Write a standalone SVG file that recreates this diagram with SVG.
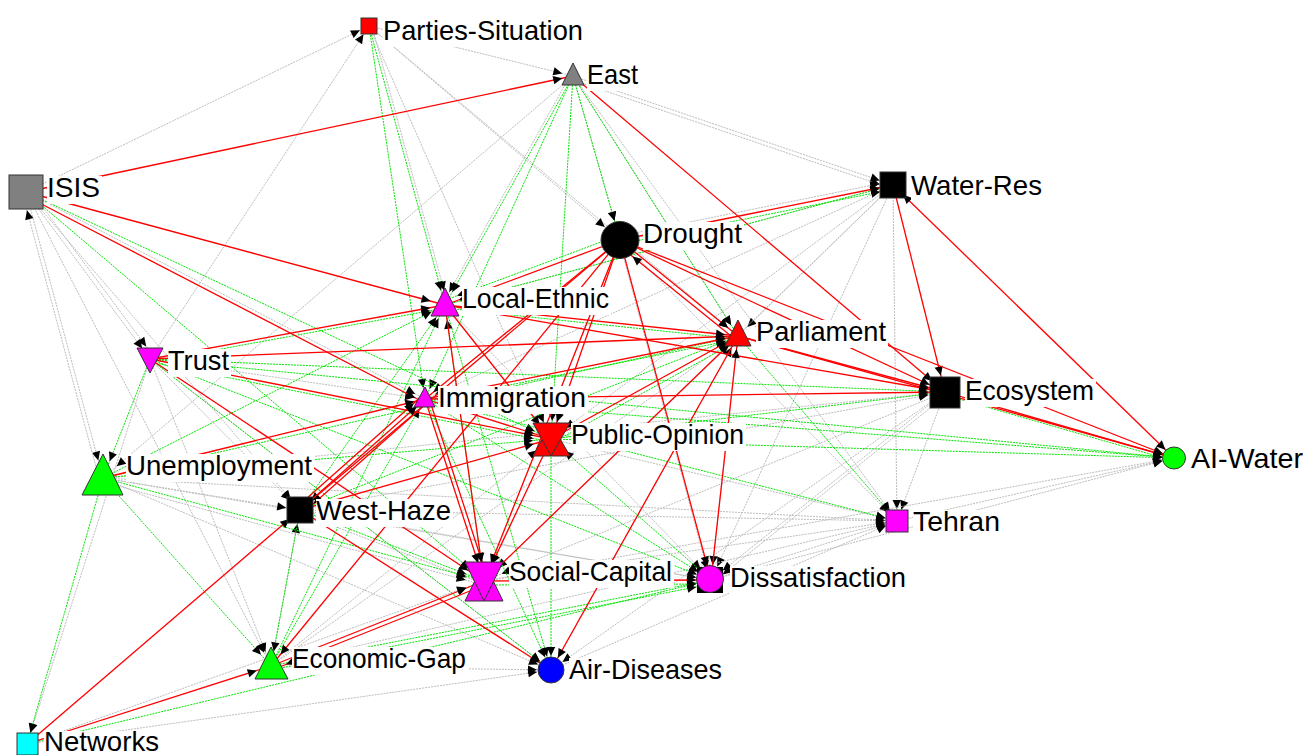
<svg xmlns="http://www.w3.org/2000/svg" width="1306" height="755" viewBox="0 0 1306 755">
<style>
.r{stroke:#ff0000;stroke-width:1.3;fill:none}
.g{stroke:#00e600;stroke-width:1;stroke-dasharray:2 1;fill:none}
.y{stroke:#bdbdbd;stroke-width:1;stroke-dasharray:2 1;fill:none}
.lb{fill:#ffffff}
.t{font-family:"Liberation Sans",Arial,sans-serif;font-size:28px;fill:#000}
.o{stroke:#333;stroke-width:1}
</style>
<defs>
<path id="ah" d="M0,0 L-9,-4.2 L-9,4.2 Z" fill="#000"/>
<marker id="mPS" markerUnits="userSpaceOnUse" orient="auto" overflow="visible" refX="10" refY="0" markerWidth="1" markerHeight="1"><use href="#ah"/></marker>
<marker id="mEA" markerUnits="userSpaceOnUse" orient="auto" overflow="visible" refX="11" refY="0" markerWidth="1" markerHeight="1"><use href="#ah"/></marker>
<marker id="mIS" markerUnits="userSpaceOnUse" orient="auto" overflow="visible" refX="19" refY="0" markerWidth="1" markerHeight="1"><use href="#ah"/></marker>
<marker id="mWR" markerUnits="userSpaceOnUse" orient="auto" overflow="visible" refX="14" refY="0" markerWidth="1" markerHeight="1"><use href="#ah"/></marker>
<marker id="mWRs" markerUnits="userSpaceOnUse" orient="auto-start-reverse" overflow="visible" refX="14" refY="0" markerWidth="1" markerHeight="1"><use href="#ah"/></marker>
<marker id="mDR" markerUnits="userSpaceOnUse" orient="auto" overflow="visible" refX="20" refY="0" markerWidth="1" markerHeight="1"><use href="#ah"/></marker>
<marker id="mLE" markerUnits="userSpaceOnUse" orient="auto" overflow="visible" refX="15" refY="0" markerWidth="1" markerHeight="1"><use href="#ah"/></marker>
<marker id="mPA" markerUnits="userSpaceOnUse" orient="auto" overflow="visible" refX="13" refY="0" markerWidth="1" markerHeight="1"><use href="#ah"/></marker>
<marker id="mTR" markerUnits="userSpaceOnUse" orient="auto" overflow="visible" refX="13" refY="0" markerWidth="1" markerHeight="1"><use href="#ah"/></marker>
<marker id="mIM" markerUnits="userSpaceOnUse" orient="auto" overflow="visible" refX="11" refY="0" markerWidth="1" markerHeight="1"><use href="#ah"/></marker>
<marker id="mEC" markerUnits="userSpaceOnUse" orient="auto" overflow="visible" refX="17" refY="0" markerWidth="1" markerHeight="1"><use href="#ah"/></marker>
<marker id="mPO" markerUnits="userSpaceOnUse" orient="auto" overflow="visible" refX="18" refY="0" markerWidth="1" markerHeight="1"><use href="#ah"/></marker>
<marker id="mAW" markerUnits="userSpaceOnUse" orient="auto" overflow="visible" refX="12" refY="0" markerWidth="1" markerHeight="1"><use href="#ah"/></marker>
<marker id="mUN" markerUnits="userSpaceOnUse" orient="auto" overflow="visible" refX="18" refY="0" markerWidth="1" markerHeight="1"><use href="#ah"/></marker>
<marker id="mWH" markerUnits="userSpaceOnUse" orient="auto" overflow="visible" refX="14" refY="0" markerWidth="1" markerHeight="1"><use href="#ah"/></marker>
<marker id="mTE" markerUnits="userSpaceOnUse" orient="auto" overflow="visible" refX="12" refY="0" markerWidth="1" markerHeight="1"><use href="#ah"/></marker>
<marker id="mSC" markerUnits="userSpaceOnUse" orient="auto" overflow="visible" refX="19" refY="0" markerWidth="1" markerHeight="1"><use href="#ah"/></marker>
<marker id="mDI" markerUnits="userSpaceOnUse" orient="auto" overflow="visible" refX="15" refY="0" markerWidth="1" markerHeight="1"><use href="#ah"/></marker>
<marker id="mEG" markerUnits="userSpaceOnUse" orient="auto" overflow="visible" refX="15" refY="0" markerWidth="1" markerHeight="1"><use href="#ah"/></marker>
<marker id="mAD" markerUnits="userSpaceOnUse" orient="auto" overflow="visible" refX="14" refY="0" markerWidth="1" markerHeight="1"><use href="#ah"/></marker>
<marker id="mNE" markerUnits="userSpaceOnUse" orient="auto" overflow="visible" refX="12" refY="0" markerWidth="1" markerHeight="1"><use href="#ah"/></marker>
</defs>
<rect width="1306" height="755" fill="#ffffff"/>
<g id="connectors">
<!-- gray -->
<line class="y" x1="26" y1="192" x2="369" y2="26" marker-end="url(#mPS)"/>
<line class="y" x1="150" y1="359" x2="369" y2="26" marker-end="url(#mPS)"/>
<line class="y" x1="369" y1="26" x2="573" y2="76" marker-end="url(#mEA)"/>
<line class="y" x1="369" y1="26" x2="738" y2="336" marker-end="url(#mPA)"/>
<line class="y" x1="369" y1="26" x2="620" y2="240" marker-end="url(#mDR)"/>
<line class="y" x1="372" y1="26" x2="448" y2="305" marker-end="url(#mLE)"/>
<line class="y" x1="369" y1="26" x2="551" y2="439" marker-end="url(#mPO)"/>
<line class="y" x1="573" y1="76" x2="893" y2="185" marker-end="url(#mWR)"/>
<line class="y" x1="573" y1="80" x2="893" y2="189" marker-end="url(#mWR)"/>
<line class="y" x1="573" y1="76" x2="620" y2="240" marker-end="url(#mDR)"/>
<line class="y" x1="573" y1="76" x2="738" y2="336" marker-end="url(#mPA)"/>
<line class="y" x1="573" y1="76" x2="897" y2="521" marker-end="url(#mTE)"/>
<line class="y" x1="573" y1="76" x2="103" y2="478" marker-end="url(#mUN)"/>
<line class="y" x1="570" y1="76" x2="442" y2="305" marker-end="url(#mLE)"/>
<line class="y" x1="26" y1="192" x2="150" y2="359" marker-end="url(#mTR)"/>
<line class="y" x1="30" y1="190" x2="154" y2="357" marker-end="url(#mTR)"/>
<line class="y" x1="26" y1="192" x2="103" y2="478" marker-end="url(#mUN)"/>
<line class="y" x1="99" y1="478" x2="22" y2="192" marker-end="url(#mIS)"/>
<line class="y" x1="26" y1="192" x2="300" y2="510" marker-end="url(#mWH)"/>
<line class="y" x1="26" y1="192" x2="271" y2="666" marker-end="url(#mEG)"/>
<line class="y" x1="26" y1="192" x2="425" y2="399" marker-end="url(#mIM)"/>
<line class="y" x1="620" y1="236" x2="893" y2="181" marker-end="url(#mWR)"/>
<line class="y" x1="893" y1="185" x2="738" y2="336" marker-end="url(#mPA)"/>
<line class="y" x1="893" y1="185" x2="897" y2="521" marker-end="url(#mTE)"/>
<line class="y" x1="893" y1="185" x2="425" y2="399" marker-end="url(#mIM)"/>
<line class="y" x1="893" y1="185" x2="484" y2="581" marker-end="url(#mSC)"/>
<line class="y" x1="893" y1="185" x2="711" y2="580" marker-end="url(#mDI)"/>
<line class="y" x1="893" y1="185" x2="551" y2="439" marker-end="url(#mPO)"/>
<line class="y" x1="893" y1="185" x2="445" y2="305" marker-end="url(#mLE)"/>
<line class="y" x1="945" y1="392" x2="897" y2="521" marker-end="url(#mTE)"/>
<line class="y" x1="945" y1="392" x2="711" y2="580" marker-end="url(#mDI)"/>
<line class="y" x1="945" y1="396" x2="711" y2="584" marker-end="url(#mDI)"/>
<line class="y" x1="945" y1="392" x2="484" y2="581" marker-end="url(#mSC)"/>
<line class="y" x1="945" y1="392" x2="551" y2="670" marker-end="url(#mAD)"/>
<line class="y" x1="103" y1="478" x2="897" y2="521" marker-end="url(#mTE)"/>
<line class="y" x1="300" y1="510" x2="897" y2="521" marker-end="url(#mTE)"/>
<line class="y" x1="271" y1="666" x2="897" y2="521" marker-end="url(#mTE)"/>
<line class="y" x1="484" y1="581" x2="897" y2="521" marker-end="url(#mTE)"/>
<line class="y" x1="551" y1="670" x2="897" y2="521" marker-end="url(#mTE)"/>
<line class="y" x1="711" y1="580" x2="897" y2="521" marker-end="url(#mTE)"/>
<line class="y" x1="551" y1="439" x2="897" y2="521" marker-end="url(#mTE)"/>
<line class="y" x1="620" y1="240" x2="897" y2="521" marker-end="url(#mTE)"/>
<line class="y" x1="711" y1="580" x2="1174" y2="458" marker-end="url(#mAW)"/>
<line class="y" x1="897" y1="521" x2="1174" y2="458" marker-end="url(#mAW)"/>
<line class="y" x1="484" y1="581" x2="1174" y2="458" marker-end="url(#mAW)"/>
<line class="y" x1="103" y1="478" x2="551" y2="670" marker-end="url(#mAD)"/>
<line class="y" x1="300" y1="510" x2="711" y2="580" marker-end="url(#mDI)"/>
<line class="y" x1="103" y1="478" x2="711" y2="580" marker-end="url(#mDI)"/>
<line class="y" x1="103" y1="482" x2="484" y2="585" marker-end="url(#mSC)"/>
<line class="y" x1="271" y1="666" x2="551" y2="670" marker-end="url(#mAD)"/>
<line class="y" x1="150" y1="359" x2="271" y2="666" marker-end="url(#mEG)"/>
<line class="y" x1="150" y1="359" x2="300" y2="510" marker-end="url(#mWH)"/>
<line class="y" x1="150" y1="359" x2="551" y2="670" marker-end="url(#mAD)"/>
<line class="y" x1="150" y1="359" x2="425" y2="399" marker-end="url(#mIM)"/>
<line class="y" x1="27" y1="744" x2="484" y2="581" marker-end="url(#mSC)"/>
<line class="y" x1="27" y1="744" x2="551" y2="670" marker-end="url(#mAD)"/>
<line class="y" x1="300" y1="513" x2="484" y2="584" marker-end="url(#mSC)"/>
<line class="y" x1="445" y1="305" x2="711" y2="580" marker-end="url(#mDI)"/>
<line class="y" x1="738" y1="336" x2="711" y2="580" marker-end="url(#mDI)"/>
<line class="y" x1="738" y1="336" x2="484" y2="581" marker-end="url(#mSC)"/>
<line class="y" x1="103" y1="478" x2="300" y2="510" marker-end="url(#mWH)"/>
<line class="y" x1="103" y1="478" x2="945" y2="392" marker-end="url(#mEC)"/>
<line class="y" x1="300" y1="510" x2="945" y2="392" marker-end="url(#mEC)"/>
<line class="y" x1="271" y1="666" x2="551" y2="439" marker-end="url(#mPO)"/>
<line class="y" x1="271" y1="666" x2="738" y2="336" marker-end="url(#mPA)"/>
<line class="y" x1="551" y1="670" x2="738" y2="336" marker-end="url(#mPA)"/>
<line class="y" x1="620" y1="244" x2="711" y2="584" marker-end="url(#mDI)"/>
<line class="y" x1="620" y1="240" x2="484" y2="581" marker-end="url(#mSC)"/>
<line class="y" x1="271" y1="666" x2="300" y2="510" marker-end="url(#mWH)"/>
<line class="y" x1="150" y1="359" x2="27" y2="744" marker-end="url(#mNE)"/>
<!-- green -->
<line class="g" x1="369" y1="26" x2="445" y2="305" marker-end="url(#mLE)"/>
<line class="g" x1="369" y1="26" x2="425" y2="399" marker-end="url(#mIM)"/>
<line class="g" x1="573" y1="76" x2="445" y2="305" marker-end="url(#mLE)"/>
<line class="g" x1="573" y1="76" x2="425" y2="399" marker-end="url(#mIM)"/>
<line class="g" x1="573" y1="76" x2="551" y2="439" marker-end="url(#mPO)"/>
<line class="g" x1="573" y1="76" x2="738" y2="336" marker-end="url(#mPA)"/>
<line class="g" x1="573" y1="76" x2="620" y2="240" marker-end="url(#mDR)"/>
<line class="g" x1="621" y1="244" x2="894" y2="189" marker-end="url(#mWR)"/>
<line class="g" x1="445" y1="305" x2="893" y2="185" marker-end="url(#mWR)"/>
<line class="g" x1="617" y1="236" x2="443" y2="301" marker-end="url(#mLE)"/>
<line class="g" x1="26" y1="192" x2="484" y2="581" marker-end="url(#mSC)"/>
<line class="g" x1="26" y1="192" x2="551" y2="439" marker-end="url(#mPO)"/>
<line class="g" x1="150" y1="362" x2="445" y2="308" marker-end="url(#mLE)"/>
<line class="g" x1="150" y1="362" x2="551" y2="442" marker-end="url(#mPO)"/>
<line class="g" x1="150" y1="359" x2="711" y2="580" marker-end="url(#mDI)"/>
<line class="g" x1="150" y1="359" x2="1174" y2="458" marker-end="url(#mAW)"/>
<line class="g" x1="150" y1="359" x2="945" y2="392" marker-end="url(#mEC)"/>
<line class="g" x1="425" y1="399" x2="897" y2="521" marker-end="url(#mTE)"/>
<line class="g" x1="425" y1="399" x2="1174" y2="458" marker-end="url(#mAW)"/>
<line class="g" x1="551" y1="439" x2="1174" y2="458" marker-end="url(#mAW)"/>
<line class="g" x1="551" y1="439" x2="945" y2="392" marker-end="url(#mEC)"/>
<line class="g" x1="945" y1="395" x2="1174" y2="461" marker-end="url(#mAW)"/>
<line class="g" x1="738" y1="336" x2="897" y2="521" marker-end="url(#mTE)"/>
<line class="g" x1="103" y1="478" x2="738" y2="336" marker-end="url(#mPA)"/>
<line class="g" x1="300" y1="510" x2="738" y2="336" marker-end="url(#mPA)"/>
<line class="g" x1="425" y1="402" x2="738" y2="339" marker-end="url(#mPA)"/>
<line class="g" x1="103" y1="478" x2="271" y2="666" marker-end="url(#mEG)"/>
<line class="g" x1="300" y1="510" x2="271" y2="666" marker-end="url(#mEG)"/>
<line class="g" x1="271" y1="666" x2="425" y2="399" marker-end="url(#mIM)"/>
<line class="g" x1="271" y1="666" x2="445" y2="305" marker-end="url(#mLE)"/>
<line class="g" x1="103" y1="478" x2="27" y2="744" marker-end="url(#mNE)"/>
<line class="g" x1="27" y1="744" x2="711" y2="580" marker-end="url(#mDI)"/>
<line class="g" x1="271" y1="666" x2="711" y2="580" marker-end="url(#mDI)"/>
<line class="g" x1="271" y1="670" x2="711" y2="584" marker-end="url(#mDI)"/>
<line class="g" x1="484" y1="585" x2="711" y2="584" marker-end="url(#mDI)"/>
<line class="g" x1="445" y1="305" x2="551" y2="670" marker-end="url(#mAD)"/>
<line class="g" x1="425" y1="399" x2="551" y2="670" marker-end="url(#mAD)"/>
<line class="g" x1="551" y1="439" x2="551" y2="670" marker-end="url(#mAD)"/>
<line class="g" x1="103" y1="478" x2="445" y2="305" marker-end="url(#mLE)"/>
<line class="g" x1="103" y1="478" x2="551" y2="439" marker-end="url(#mPO)"/>
<line class="g" x1="300" y1="510" x2="445" y2="305" marker-end="url(#mLE)"/>
<line class="g" x1="484" y1="581" x2="445" y2="305" marker-end="url(#mLE)"/>
<line class="g" x1="445" y1="308" x2="738" y2="339" marker-end="url(#mPA)"/>
<line class="g" x1="554" y1="442" x2="741" y2="339" marker-end="url(#mPA)"/>
<line class="g" x1="150" y1="359" x2="103" y2="478" marker-end="url(#mUN)"/>
<line class="g" x1="103" y1="478" x2="484" y2="581" marker-end="url(#mSC)"/>
<line class="g" x1="711" y1="580" x2="551" y2="439" marker-end="url(#mPO)"/>
<line class="g" x1="425" y1="399" x2="711" y2="580" marker-end="url(#mDI)"/>
<line class="g" x1="300" y1="510" x2="484" y2="581" marker-end="url(#mSC)"/>
<line class="g" x1="150" y1="359" x2="551" y2="670" marker-end="url(#mAD)"/>
<!-- red -->
<line class="r" x1="26" y1="192" x2="573" y2="76" marker-end="url(#mEA)"/>
<line class="r" x1="26" y1="192" x2="445" y2="305" marker-end="url(#mLE)"/>
<line class="r" x1="26" y1="196" x2="425" y2="403" marker-end="url(#mIM)"/>
<line class="r" x1="573" y1="76" x2="945" y2="392" marker-end="url(#mEC)"/>
<line class="r" x1="620" y1="240" x2="893" y2="185" marker-end="url(#mWR)"/>
<line class="r" x1="893" y1="185" x2="945" y2="392" marker-end="url(#mEC)"/>
<line class="r" x1="893" y1="185" x2="1174" y2="458" marker-start="url(#mWRs)" marker-end="url(#mAW)"/>
<line class="r" x1="945" y1="392" x2="1174" y2="458" marker-end="url(#mAW)"/>
<line class="r" x1="738" y1="336" x2="1174" y2="458" marker-end="url(#mAW)"/>
<line class="r" x1="620" y1="240" x2="1174" y2="458" marker-end="url(#mAW)"/>
<line class="r" x1="620" y1="240" x2="738" y2="336" marker-end="url(#mPA)"/>
<line class="r" x1="736" y1="340" x2="617" y2="244" marker-end="url(#mDR)"/>
<line class="r" x1="620" y1="240" x2="945" y2="392" marker-end="url(#mEC)"/>
<line class="r" x1="620" y1="240" x2="445" y2="305" marker-end="url(#mLE)"/>
<line class="r" x1="620" y1="240" x2="425" y2="399" marker-end="url(#mIM)"/>
<line class="r" x1="620" y1="240" x2="551" y2="439" marker-end="url(#mPO)"/>
<line class="r" x1="620" y1="240" x2="484" y2="581" marker-end="url(#mSC)"/>
<line class="r" x1="620" y1="240" x2="711" y2="580" marker-end="url(#mDI)"/>
<line class="r" x1="620" y1="240" x2="271" y2="666" marker-end="url(#mEG)"/>
<line class="r" x1="620" y1="240" x2="300" y2="510" marker-end="url(#mWH)"/>
<line class="r" x1="150" y1="359" x2="738" y2="336" marker-end="url(#mPA)"/>
<line class="r" x1="150" y1="359" x2="551" y2="439" marker-end="url(#mPO)"/>
<line class="r" x1="150" y1="359" x2="484" y2="581" marker-end="url(#mSC)"/>
<line class="r" x1="150" y1="359" x2="445" y2="305" marker-end="url(#mLE)"/>
<line class="r" x1="445" y1="305" x2="738" y2="336" marker-end="url(#mPA)"/>
<line class="r" x1="445" y1="305" x2="945" y2="392" marker-end="url(#mEC)"/>
<line class="r" x1="425" y1="399" x2="945" y2="392" marker-end="url(#mEC)"/>
<line class="r" x1="738" y1="336" x2="945" y2="392" marker-end="url(#mEC)"/>
<line class="r" x1="103" y1="478" x2="425" y2="399" marker-end="url(#mIM)"/>
<line class="r" x1="300" y1="510" x2="425" y2="399" marker-end="url(#mIM)"/>
<line class="r" x1="428" y1="402" x2="303" y2="513" marker-end="url(#mWH)"/>
<line class="r" x1="297" y1="507" x2="422" y2="396" marker-end="url(#mIM)"/>
<line class="r" x1="300" y1="510" x2="551" y2="439" marker-end="url(#mPO)"/>
<line class="r" x1="300" y1="510" x2="551" y2="670" marker-end="url(#mAD)"/>
<line class="r" x1="27" y1="744" x2="271" y2="666" marker-end="url(#mEG)"/>
<line class="r" x1="27" y1="744" x2="300" y2="510" marker-end="url(#mWH)"/>
<line class="r" x1="271" y1="666" x2="484" y2="581" marker-end="url(#mSC)"/>
<line class="r" x1="485" y1="585" x2="272" y2="670" marker-end="url(#mEG)"/>
<line class="r" x1="425" y1="399" x2="484" y2="581" marker-end="url(#mSC)"/>
<line class="r" x1="429" y1="398" x2="488" y2="580" marker-end="url(#mSC)"/>
<line class="r" x1="551" y1="439" x2="484" y2="581" marker-end="url(#mSC)"/>
<line class="r" x1="445" y1="305" x2="484" y2="581" marker-end="url(#mSC)"/>
<line class="r" x1="738" y1="336" x2="551" y2="670" marker-end="url(#mAD)"/>
<line class="r" x1="484" y1="581" x2="738" y2="336" marker-end="url(#mPA)"/>
<line class="r" x1="551" y1="439" x2="738" y2="336" marker-end="url(#mPA)"/>
<line class="r" x1="425" y1="399" x2="738" y2="336" marker-end="url(#mPA)"/>
<line class="r" x1="484" y1="581" x2="711" y2="580" marker-end="url(#mDI)"/>
<line class="r" x1="425" y1="399" x2="551" y2="439" marker-end="url(#mPO)"/>
<line class="r" x1="445" y1="305" x2="551" y2="439" marker-end="url(#mPO)"/>
<line class="r" x1="711" y1="580" x2="738" y2="336" marker-end="url(#mPA)"/>
</g>
<g id="node-parties-situation">
<rect class="o" x="361" y="18" width="16" height="16" fill="#ff0000"/>
<rect class="lb" x="383" y="19" width="202" height="28"/>
<text class="t" x="383" y="40" textLength="200" lengthAdjust="spacingAndGlyphs">Parties-Situation</text>
</g>
<g id="node-east">
<polygon class="o" points="573,63 584,85 562,85" fill="#808080"/>
<rect class="lb" x="587" y="63" width="53" height="28"/>
<text class="t" x="587" y="84" textLength="51" lengthAdjust="spacingAndGlyphs">East</text>
</g>
<g id="node-isis">
<rect class="o" x="9" y="175" width="34" height="34" fill="#808080"/>
<rect class="lb" x="47" y="176" width="55" height="28"/>
<text class="t" x="47" y="197" textLength="53" lengthAdjust="spacingAndGlyphs">ISIS</text>
</g>
<g id="node-water-res">
<rect class="o" x="880" y="172" width="26" height="26" fill="#000"/>
<rect class="lb" x="911" y="174" width="133" height="28"/>
<text class="t" x="911" y="195" textLength="131" lengthAdjust="spacingAndGlyphs">Water-Res</text>
</g>
<g id="node-drought">
<ellipse class="o" cx="620" cy="240" rx="19" ry="18.5" fill="#000"/>
<rect class="lb" x="643" y="222" width="101" height="28"/>
<text class="t" x="643" y="243" textLength="99" lengthAdjust="spacingAndGlyphs">Drought</text>
</g>
<g id="node-local-ethnic">
<polygon class="o" points="445,288 459,316 431,316" fill="#ff00ff"/>
<rect class="lb" x="462" y="287" width="149" height="28"/>
<text class="t" x="462" y="308" textLength="147" lengthAdjust="spacingAndGlyphs">Local-Ethnic</text>
</g>
<g id="node-parliament">
<polygon class="o" points="738,320 751,346 725,346" fill="#ff0000"/>
<rect class="lb" x="756" y="320" width="132" height="28"/>
<text class="t" x="756" y="341" textLength="130" lengthAdjust="spacingAndGlyphs">Parliament</text>
</g>
<g id="node-trust">
<polygon class="o" points="137,348 163,348 150,373" fill="#ff00ff"/>
<rect class="lb" x="168" y="349" width="63" height="28"/>
<text class="t" x="168" y="370" textLength="61" lengthAdjust="spacingAndGlyphs">Trust</text>
</g>
<g id="node-immigration">
<polygon class="o" points="425,387 435,407 414,407" fill="#ff00ff"/>
<rect class="lb" x="438" y="386" width="150" height="28"/>
<text class="t" x="438" y="407" textLength="148" lengthAdjust="spacingAndGlyphs">Immigration</text>
</g>
<g id="node-ecosystem">
<rect class="o" x="930" y="377" width="30" height="31" fill="#000"/>
<rect class="lb" x="965" y="379" width="131" height="28"/>
<text class="t" x="965" y="400" textLength="129" lengthAdjust="spacingAndGlyphs">Ecosystem</text>
</g>
<g id="node-public-opinion">
<polygon class="o" points="533,456 570,456 551,423" fill="#ff0000"/>
<polygon class="o" points="533,423 570,423 551,456" fill="#ff0000"/>
<rect class="lb" x="571" y="423" width="175" height="28"/>
<text class="t" x="571" y="444" textLength="173" lengthAdjust="spacingAndGlyphs">Public-Opinion</text>
</g>
<g id="node-ai-water">
<ellipse class="o" cx="1174" cy="458" rx="11.5" ry="11" fill="#00ff00"/>
<rect class="lb" x="1191" y="447" width="114" height="28"/>
<text class="t" x="1191" y="468" textLength="112" lengthAdjust="spacingAndGlyphs">AI-Water</text>
</g>
<g id="node-unemployment">
<polygon class="o" points="103,454 123,495 82,495" fill="#00ff00"/>
<rect class="lb" x="126" y="454" width="188" height="28"/>
<text class="t" x="126" y="475" textLength="186" lengthAdjust="spacingAndGlyphs">Unemployment</text>
</g>
<g id="node-west-haze">
<rect class="o" x="287" y="497" width="26" height="26" fill="#000"/>
<rect class="lb" x="316" y="499" width="137" height="28"/>
<text class="t" x="316" y="520" textLength="135" lengthAdjust="spacingAndGlyphs">West-Haze</text>
</g>
<g id="node-tehran">
<rect class="o" x="886" y="510" width="22" height="22" fill="#ff00ff"/>
<rect class="lb" x="913" y="510" width="89" height="28"/>
<text class="t" x="913" y="531" textLength="87" lengthAdjust="spacingAndGlyphs">Tehran</text>
</g>
<g id="node-social-capital">
<polygon class="o" points="465,601 503,601 484,562" fill="#ff00ff"/>
<polygon class="o" points="465,562 503,562 484,601" fill="#ff00ff"/>
<rect class="lb" x="509" y="560" width="165" height="28"/>
<text class="t" x="509" y="581" textLength="163" lengthAdjust="spacingAndGlyphs">Social-Capital</text>
</g>
<g id="node-dissatisfaction">
<rect x="697" y="567" width="26" height="26" fill="#000"/>
<circle class="o" cx="710" cy="579" r="13.5" fill="#ff00ff"/>
<rect class="lb" x="730" y="566" width="178" height="28"/>
<text class="t" x="730" y="587" textLength="176" lengthAdjust="spacingAndGlyphs">Dissatisfaction</text>
</g>
<g id="node-economic-gap">
<polygon class="o" points="271,647 288,679 255,679" fill="#00ff00"/>
<rect class="lb" x="292" y="647" width="176" height="28"/>
<text class="t" x="292" y="668" textLength="174" lengthAdjust="spacingAndGlyphs">Economic-Gap</text>
</g>
<g id="node-air-diseases">
<circle class="o" cx="551" cy="670" r="13" fill="#0000ff"/>
<rect class="lb" x="569" y="658" width="155" height="28"/>
<text class="t" x="569" y="679" textLength="153" lengthAdjust="spacingAndGlyphs">Air-Diseases</text>
</g>
<g id="node-networks">
<rect class="o" x="17" y="733" width="21" height="22" fill="#00ffff"/>
<rect class="lb" x="44" y="731" width="117" height="24"/>
<text class="t" x="44" y="751" textLength="115" lengthAdjust="spacingAndGlyphs">Networks</text>
</g>
</svg>
